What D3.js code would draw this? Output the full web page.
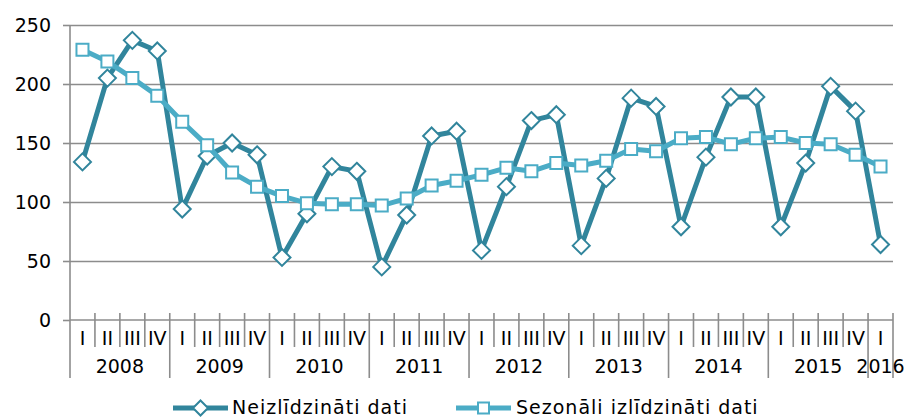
<!DOCTYPE html>
<html>
<head>
<meta charset="utf-8">
<script src="https://cdn.jsdelivr.net/npm/d3@7"></script>
<style>
  body { margin: 0; background: #fff; }
  svg { display: block; font-family: "DejaVu Sans", Verdana, sans-serif; }
</style>
</head>
<body>
<svg id="chart" width="904" height="419"></svg>
<script>
const quarters = ["I","II","III","IV","I","II","III","IV","I","II","III","IV","I","II","III","IV","I","II","III","IV","I","II","III","IV","I","II","III","IV","I","II","III","IV","I"];
const years = ["2008","2009","2010","2011","2012","2013","2014","2015","2016"];
const seriesNames = ["Neizlīdzināti dati", "Sezonāli izlīdzināti dati"];
const unadjusted = [134,205,237,228, 94,139,150,140, 53,90,130,126, 45,89,156,160, 59,113,169,174, 63,120,188,181, 79,138,189,189, 79,133,198,177, 64];
const adjusted = [229,219,205,190, 168,148,125,113, 105,99,98,98, 97,103,114,118, 123,129,126,133, 131,135,145,143, 154,155,149,154, 155,150,149,140, 130];
const yTicks = [0,50,100,150,200,250];

(function () {
const svg = d3.select("#chart");
const pLeft = 70, pRight = 893, pTop = 25, pBottom = 320;
const dark = "#31859C", light = "#4BACC6", gridCol = "#8c8c8c";
const fs = 19;

const idx = quarters.map((d,i) => i);
const x = d3.scaleBand().domain(idx).range([pLeft, pRight]).padding(0);
const cx = i => x(i) + x.bandwidth()/2;
const y = d3.scaleLinear().domain([0,250]).range([pBottom, pTop]);

// gridlines
const grid = svg.append("g").attr("transform", `translate(${pLeft},0)`)
  .call(d3.axisLeft(y).tickValues(yTicks.filter(v => v > 0)).tickSize(-(pRight-pLeft)).tickFormat(""));
grid.select(".domain").remove();
grid.selectAll("line").attr("stroke", gridCol).attr("stroke-width", 1.6);

// y axis
const yAx = svg.append("g").attr("transform", `translate(${pLeft},0)`)
  .call(d3.axisLeft(y).tickValues(yTicks).tickSize(7).tickPadding(12));
yAx.select(".domain").remove();
yAx.selectAll("line").attr("stroke", gridCol).attr("stroke-width", 1.6);
yAx.selectAll("text").attr("font-size", fs).attr("fill", "#000")
  .attr("font-family", "DejaVu Sans, Verdana, sans-serif").attr("dy", "0.36em");

// vertical axis line extended
svg.append("line").attr("x1", pLeft).attr("x2", pLeft).attr("y1", pTop).attr("y2", 378)
  .attr("stroke", gridCol).attr("stroke-width", 1.6);

// x axis line
svg.append("line").attr("x1", pLeft).attr("x2", pRight).attr("y1", pBottom).attr("y2", pBottom)
  .attr("stroke", gridCol).attr("stroke-width", 1.6);

// category boundaries
const bounds = idx.slice(1).map(i => ({pos: x(i), year: i % 4 === 0}));
bounds.push({pos: pRight, year: true});
svg.append("g").selectAll("line").data(bounds).join("line")
  .attr("x1", d => d.pos).attr("x2", d => d.pos)
  .attr("y1", pBottom - 7).attr("y2", d => d.year ? 378 : 347)
  .attr("stroke", gridCol).attr("stroke-width", 1.6);

// quarter labels
const xAx = svg.append("g").attr("transform", `translate(0,${pBottom})`)
  .call(d3.axisBottom(x).tickSize(0).tickPadding(12).tickFormat(i => quarters[i]));
xAx.select(".domain").remove();
xAx.selectAll("text").attr("font-size", fs).attr("fill", "#000")
  .attr("font-family", "DejaVu Sans, Verdana, sans-serif");

// year labels
svg.append("g").selectAll("text").data(years).join("text")
  .attr("x", (d,k) => {
    const s = k*4, e = Math.min(k*4+3, quarters.length-1);
    return (x(s) + x(e) + x.bandwidth())/2;
  })
  .attr("y", 373).attr("text-anchor", "middle").attr("font-size", fs).attr("fill", "#000")
  .text(d => d);

// series
const line = d3.line().x((d,i) => cx(i)).y(d => y(d));
const diamond = r => `M0,${-r}L${r},0L0,${r}L${-r},0Z`;
const square = s => `M${-s/2},${-s/2}h${s}v${s}h${-s}Z`;

function drawSeries(vals, col, shape) {
  const g = svg.append("g");
  g.append("path").datum(vals).attr("d", line).attr("fill", "none")
    .attr("stroke", col).attr("stroke-width", 5).attr("stroke-linejoin", "round");
  g.selectAll("path.m").data(vals).join("path").attr("class", "m")
    .attr("transform", (d,i) => `translate(${cx(i)},${y(d)})`)
    .attr("d", shape).attr("fill", "#fff").attr("stroke", col).attr("stroke-width", 2);
}
drawSeries(unadjusted, dark, diamond(8.5));
drawSeries(adjusted, light, square(12));

// legend
const legend = [
  {name: seriesNames[0], col: dark, shape: diamond(7.5), x0: 173, x1: 228, tx: 232},
  {name: seriesNames[1], col: light, shape: square(11), x0: 456, x1: 511, tx: 516}
];
const ly = 408;
const lg = svg.append("g").selectAll("g").data(legend).join("g");
lg.append("line").attr("x1", d => d.x0).attr("x2", d => d.x1).attr("y1", ly).attr("y2", ly)
  .attr("stroke", d => d.col).attr("stroke-width", 5);
lg.append("path").attr("transform", d => `translate(${(d.x0+d.x1)/2},${ly})`)
  .attr("d", d => d.shape).attr("fill", "#fff").attr("stroke", d => d.col).attr("stroke-width", 2);
lg.append("text").attr("x", d => d.tx).attr("y", 414).attr("font-size", fs).attr("fill", "#000")
  .attr("letter-spacing", "1px")
  .text(d => d.name);
})();
</script>
</body>
</html>
